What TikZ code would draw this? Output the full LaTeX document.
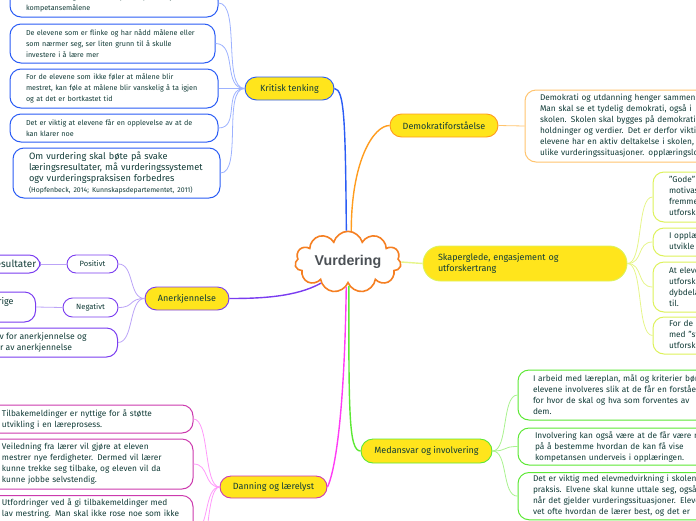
\documentclass[tikz,border=0pt]{standalone}
\usepackage{fontspec}
\setmainfont{Fira Sans}
\newfontfamily\cloudfont{Liberation Sans}
\usepackage{tikz}
\usetikzlibrary{shapes.symbols, shapes.misc}

\definecolor{ink}{HTML}{123C38}
\definecolor{pillyellow}{HTML}{FFE51C}
\definecolor{cloudorange}{HTML}{F57F22}
\definecolor{cloudgray}{HTML}{4B5055}
\definecolor{critblue}{HTML}{2A5CF5}
\definecolor{critlight}{HTML}{9DB2FF}
\definecolor{demoorange}{HTML}{FF9C1E}
\definecolor{demolight}{HTML}{FFC46E}
\definecolor{skapgreen}{HTML}{DDF25A}
\definecolor{skaplight}{HTML}{E6F58A}
\definecolor{medgreen}{HTML}{5CE834}
\definecolor{medlight}{HTML}{A9F28F}
\definecolor{danmag}{HTML}{CC3AAE}
\definecolor{danpink}{HTML}{FF3CF5}
\definecolor{danlight}{HTML}{FF99FA}
\definecolor{anpurple}{HTML}{7A3CF0}
\definecolor{anlight}{HTML}{BBA3F7}

\tikzset{
  topic/.style={rounded rectangle, draw=#1, fill=pillyellow, line width=0.9pt,
    text=ink, inner sep=0pt, font=\fontsize{9}{11}\selectfont},
  tag/.style={rounded rectangle, draw=#1, fill=white, line width=0.9pt,
    text=ink, inner sep=0pt, font=\fontsize{7.6}{9}\selectfont},
  note/.style={draw=#1, fill=white, rounded corners=11pt, line width=1pt,
    text=ink, align=left, inner xsep=0pt, inner ysep=3pt,
    execute at begin node={\leftskip=16pt}},
  leaf/.style={draw=#1, fill=white, rounded corners=11pt, line width=1pt,
    text=ink, align=left, anchor=east, inner ysep=2pt,
    font=\fontsize{9}{11}\selectfont},
  branch/.style={draw=#1, line width=1.4pt},
  twig/.style={draw=#1, line width=0.8pt},
  smalltxt/.style={font=\fontsize{7.2}{10.8}\selectfont},
  midtxt/.style={font=\fontsize{8.3}{11}\selectfont},
  bigtxt/.style={font=\fontsize{9.2}{11}\selectfont},
}

\begin{document}
\begin{tikzpicture}[x=1pt, y=-1pt]
  \useasboundingbox (0,0) rectangle (696,520);
  \clip (0,0) rectangle (696,520);

  % Centre
  \node[cloud, cloud puffs=11, aspect=2.2, draw=cloudorange, line width=1.6pt,
        fill=white, minimum width=106pt, minimum height=49pt, inner sep=0pt,
        text=cloudgray, font=\cloudfont\bfseries\fontsize{14.2}{16}\selectfont]
    (vurd) at (348,262) {Vurdering};

  % Main topics
  \node[topic=critblue, minimum width=89pt, minimum height=23pt] (krit) at (289.5,88.5) {Kritisk tenking};
  \node[topic=demoorange, minimum width=108pt, minimum height=23pt] (demo) at (444,125.5) {Demokratiforståelse};
  \node[topic=skapgreen, minimum width=204pt, minimum height=35pt, text width=174pt, align=left]
    (skap) at (525,263.5) {Skaperglede, engasjement og\\utforskertrang};
  \node[topic=medgreen, minimum width=131pt, minimum height=24pt] (medan) at (426.5,451) {Medansvar og involvering};
  \node[topic=danmag, minimum width=107pt, minimum height=22pt] (dann) at (273.5,487) {Danning og lærelyst};
  \node[topic=anpurple, minimum width=84pt, minimum height=23pt] (aner) at (187,298.5) {Anerkjennelse};

  % Kritisk tenking
  \node[note=critblue, smalltxt, text width=208pt, minimum height=28pt] (kA) at (114,3)
    {om å vurdering av elevenes prestasjoner i lys av\\kompetansemålene};
  \node[note=critblue, smalltxt, text width=205pt, minimum height=39pt] (kB) at (112.5,43.5)
    {De elevene som er flinke og har nådd målene eller\\som nærmer seg, ser liten grunn til å skulle\\investere i å lære mer};
  \node[note=critblue, smalltxt, text width=208pt, minimum height=39pt] (kC) at (114,88.5)
    {For de elevene som ikke føler at målene blir\\mestret, kan føle at målene blir vanskelig å ta igjen\\og at det er bortkastet tid};
  \node[note=critblue, smalltxt, text width=208pt, minimum height=28pt] (kD) at (114,128)
    {Det er viktig at elevene får en opplevelse av at de\\kan klarer noe};
  \node[note=critblue, bigtxt, text width=207pt, minimum height=50pt] (kE) at (116.5,173)
    {Om vurdering skal bøte på svake\\læringsresultater, må vurderingssystemet\\ogv vurderingspraksisen forbedres\\{\fontsize{6.9}{11}\selectfont(Hopfenbeck, 2014; Kunnskapsdepartementet, 2011)}};

  % Demokratiforståelse
  \node[note=demolight, midtxt, text width=240pt, minimum height=72pt, execute at begin node={\leftskip=15pt}]
    (demotxt) at (645,126)
    {Demokrati og utdanning henger sammen.\\Man skal se et tydelig demokrati, også i\\skolen. Skolen skal bygges på demokratiske\\holdninger og verdier. Det er derfor viktig at\\elevene har en aktiv deltakelse i skolen, og i\\ulike vurderingssituasjoner. opplæringslova};

  % Skaperglede
  \node[note=skapgreen, midtxt, text width=150pt, minimum height=50pt] (sA) at (728,197)
    {"Gode" oppgaver gir\\motivasjon og\\fremmer\\utforskertrang};
  \node[note=skapgreen, midtxt, text width=150pt, minimum height=28pt] (sB) at (728,242)
    {I opplæringen skal\\utvikle seg};
  \node[note=skapgreen, midtxt, text width=150pt, minimum height=50pt] (sC) at (728,287)
    {At elevene får\\utforske bidrar\\dybdelæring\\til.};
  \node[note=skapgreen, midtxt, text width=150pt, minimum height=37pt] (sD) at (728,335.5)
    {For de elevene\\med "store"\\utforskertrang};

  % Medansvar
  \node[note=medgreen, midtxt, text width=240pt, minimum height=50pt, execute at begin node={\leftskip=15pt}]
    (mA) at (638,395)
    {I arbeid med læreplan, mål og kriterier bør\\elevene involveres slik at de får en forståelse\\for hvor de skal og hva som forventes av\\dem.};
  \node[note=medgreen, midtxt, text width=240pt, minimum height=37pt, execute at begin node={\leftskip=17pt}]
    (mB) at (638,446.5)
    {Involvering kan også være at de får være med\\på å bestemme hvordan de kan få vise\\kompetansen underveis i opplæringen.};
  \node[note=medgreen, midtxt, text width=240pt, anchor=north, execute at begin node={\leftskip=15pt}]
    (mC) at (638,472)
    {Det er viktig med elevmedvirkning i skolens\\praksis. Elvene skal kunne uttale seg, også\\når det gjelder vurderingssituasjoner. Elevene\\vet ofte hvordan de lærer best, og det er};

  % Danning og lærelyst
  \node[note=danmag, midtxt, text width=207pt, minimum height=28pt] (nA) at (89.5,419)
    {Tilbakemeldinger er nyttige for å støtte\\utvikling i en læreprosess.};
  \node[note=danmag, midtxt, text width=207pt, minimum height=50pt] (nB) at (89.5,464)
    {Veiledning fra lærer vil gjøre at eleven\\mestrer nye ferdigheter. Dermed vil lærer\\kunne trekke seg tilbake, og eleven vil da\\kunne jobbe selvstendig.};
  \node[note=danmag, midtxt, text width=207pt, anchor=north, text depth=60pt] (nC) at (89.5,495)
    {Utfordringer ved å gi tilbakemeldinger med\\lav mestring. Man skal ikke rose noe som ikke};
  \coordinate (nD) at (193,590);

  % Anerkjennelse
  \node[tag=anpurple, minimum width=51pt, minimum height=18pt] (pos) at (92.5,264) {Positivt};
  \node[tag=anpurple, minimum width=55pt, minimum height=19pt] (neg) at (90.5,307.5) {Negativt};
  \node[leaf=anpurple, inner xsep=4pt, minimum height=18pt, font=\fontsize{10}{11}\selectfont]
    (posres) at (40.7,264) {Gode resultater};
  \node[leaf=anpurple, inner xsep=22pt, minimum height=30pt] (negres) at (36,307)
    {Kritikk foran de øvrige\\elevene};
  \node[leaf=anpurple, inner xsep=31pt, minimum height=29pt, font=\fontsize{8.6}{11.5}\selectfont]
    (anres) at (118,342.5) {Behov for anerkjennelse og\\Følger av anerkjennelse};

  % Branches from the centre
  \draw[branch=critblue] (krit.east) .. controls +(10,1) and +(-1,-110) .. (vurd.93);
  \draw[branch=demoorange] (demo.west) .. controls +(-16,0) and +(0,-70) .. (vurd.84);
  \draw[branch=skaplight] (vurd.east) -- (skap.west);
  \draw[branch=medgreen] (vurd.272) .. controls +(0,125) and +(-12,0) .. (medan.west);
  \draw[branch=danpink] (vurd.266) .. controls +(-2,140) and +(6,-12) .. (dann.east);
  \draw[branch=anpurple] (vurd.218) .. controls +(-25,14) and +(30,0) .. (aner.east);

  % Twigs
  \foreach \k in {kA,kB,kC,kD,kE}
    \draw[twig=critlight] (krit.west) .. controls +(-22,0) and +(22,0) .. (\k.east);
  \draw[twig=demolight] (demo.east) -- (demotxt.west);
  \foreach \k in {sA,sB,sC,sD}
    \draw[twig=skaplight] (skap.east) .. controls +(16,0) and +(-16,0) .. (\k.west);
  \foreach \k in {mA,mB,mC}
    \draw[twig=medlight] (medan.east) .. controls +(16,0) and +(-16,0) .. (\k.west);
  \foreach \k in {nA,nB,nC}
    \draw[twig=danlight] (dann.west) .. controls +(-16,0) and +(16,0) .. (\k.east);
  \draw[twig=danlight] (dann.west) .. controls +(-16,0) and +(16,0) .. (nD);
  \foreach \k in {pos,neg,anres}
    \draw[twig=anlight] (aner.west) .. controls +(-16,0) and +(16,0) .. (\k.east);
  \draw[twig=anlight] (pos.west) -- (posres.east);
  \draw[twig=anlight] (neg.west) -- (negres.east);
\end{tikzpicture}
\end{document}
